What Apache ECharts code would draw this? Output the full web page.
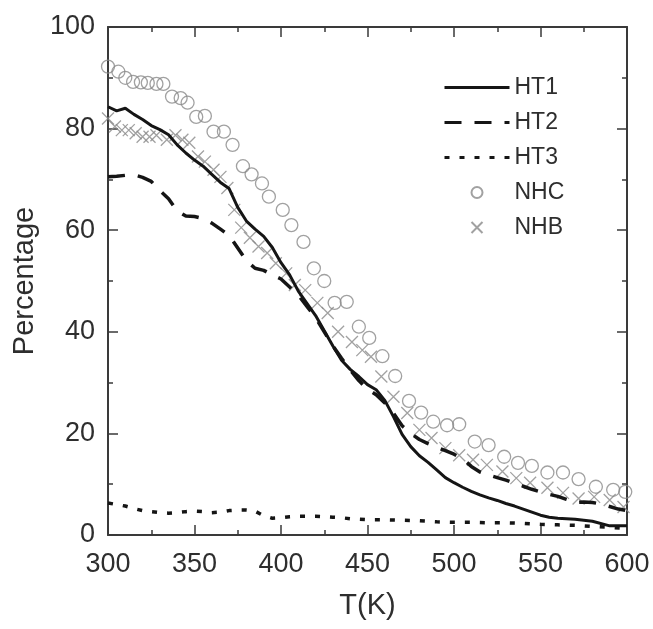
<!DOCTYPE html>
<html>
<head>
<meta charset="utf-8">
<script src="https://cdn.jsdelivr.net/npm/echarts@6/dist/echarts.min.js"></script>
<style>
html,body{margin:0;padding:0;background:#fff;}
#c{width:653px;height:629px;}
</style>
</head>
<body>
<div id="c"></div>
<script>
// Tick labels / axis ranges
const xTicks = [300, 350, 400, 450, 500, 550, 600];
const yTicks = [0, 20, 40, 60, 80, 100];
const lineNames = ['HT1', 'HT2', 'HT3'];
const markerNames = ['NHC', 'NHB'];

// HT1 (solid)
const ht1 = [[300,84.3],[305,83.5],[310,84],[315,82.8],[320,81.8],[325,80.6],[330,79.8],[335,78.8],[340,76.8],[345,75.2],[350,73.8],[355,72.6],[360,71],[365,69.4],[370,68.2],[375,64.5],[380,61.8],[385,60.2],[390,58.8],[395,56.6],[400,53.6],[405,51.2],[410,48],[415,45.6],[420,43.2],[425,40.2],[430,37.2],[435,34.4],[440,32.6],[445,31.2],[450,29.6],[455,28.6],[460,26.5],[465,23.3],[470,19.8],[475,17.4],[480,15.6],[485,14.3],[490,12.8],[495,11.3],[500,10.3],[505,9.4],[510,8.6],[515,7.9],[520,7.3],[525,6.8],[530,6.2],[535,5.7],[540,5.1],[545,4.5],[550,3.9],[555,3.5],[560,3.3],[570,3.1],[580,2.7],[590,1.8],[600,1.8]];

// HT2 (dashed)
const ht2 = [[300,70.5],[305,70.6],[310,70.8],[315,70.9],[320,70.4],[325,69.6],[330,67.8],[335,66.2],[340,63.8],[345,62.8],[350,62.7],[355,62.3],[360,61.4],[365,60.2],[370,59],[375,56.5],[380,54],[385,52.5],[390,52.1],[395,51.2],[400,50.4],[405,48.8],[410,47.2],[415,45],[420,42.8],[425,40],[430,37.2],[435,34.8],[440,32.5],[445,30.4],[450,28.7],[455,27.6],[460,26],[465,24],[470,21.5],[475,20],[480,18.8],[485,18],[490,17.3],[495,16.6],[500,15.9],[505,15],[510,13.5],[515,12.4],[520,11.8],[525,11.3],[530,10.8],[535,10.2],[540,9.6],[545,9],[550,8.5],[555,8],[560,7.6],[565,7],[570,6.4],[575,6.5],[580,6.4],[585,6.1],[590,5.6],[595,5.1],[600,4.8]];

// HT3 (dotted)
const ht3 = [[300,6.3],[305,6.0],[310,5.7],[315,5.2],[320,4.8],[325,4.6],[330,4.4],[335,4.3],[340,4.4],[345,4.6],[350,4.7],[355,4.6],[360,4.4],[365,4.5],[370,4.8],[375,4.9],[380,4.9],[385,4.7],[390,3.8],[395,3.3],[400,3.4],[405,3.6],[410,3.7],[415,3.7],[420,3.7],[425,3.6],[430,3.5],[435,3.4],[440,3.2],[445,3.1],[450,3.0],[460,3.0],[470,2.9],[480,2.8],[490,2.6],[500,2.5],[510,2.5],[520,2.4],[530,2.4],[540,2.3],[550,2.1],[560,2.0],[570,1.9],[580,1.7],[590,1.5],[600,1.3]];

// NHC (open circles)
const nhc = [[300,92.2],[306,91.2],[310,90],[314.5,89.2],[319,89.1],[323,89],[328,88.8],[332,88.8],[337,86.3],[342,86],[346,85.1],[351,82.3],[356,82.5],[361,79.4],[367,79.4],[372,76.8],[378,72.6],[383,71],[389,69.2],[393,66.6],[401,64],[406,61],[413,57.7],[419,52.5],[425,50],[431,45.7],[438,45.9],[445,41],[451,38.8],[458.6,35.2],[466,31.3],[474,26.4],[481,24.1],[488,22.3],[496,21.6],[503,21.8],[512,18.4],[520,17.7],[529,15.4],[537,14.2],[545,13.6],[554,12.3],[563,12.3],[572,11],[582,9.5],[592,8.9],[599,8.5]];

// NHB (crosses)
const nhb = [[300,82],[304,80.4],[308,79.7],[312,79.7],[316,79.1],[320,78.4],[324,78.4],[328,78.7],[334,77.8],[339,78.7],[343,77.8],[347,77.2],[352,74.5],[356,73.5],[361,71.9],[365,70.5],[369,68.3],[373,64],[377,60.5],[382,58.5],[387,56.8],[392,55.5],[397,53.5],[403,51.5],[408,49.2],[414,48.2],[421,45.7],[427,43.7],[433,40],[441,38],[447,36.4],[452,35.1],[458,31.2],[465,27.2],[473,24],[480,20.7],[487,19.1],[495,17.1],[503,15.7],[511,14.8],[519,13.8],[528,12.5],[536,11.2],[544,10.3],[554,9.3],[563,8.3],[572,7.2],[581,7.5],[590,6.9],[598,5.5]];

const FONT = "'Liberation Sans', Arial, Helvetica, sans-serif";
const AX = '#3a3a3a';
const LINE = '#151515';
const MARK = '#8a8a8a';
const TXT = '#2e2e2e';

const chart = echarts.init(document.getElementById('c'), null, {renderer: 'canvas'});

function baseAxis(extra) {
  return Object.assign({
    type: 'value',
    axisLine: {show: true, onZero: false, lineStyle: {color: AX, width: 2}},
    axisTick: {show: true, inside: true, length: 10, lineStyle: {color: AX, width: 1.5}},
    minorTick: {show: true, splitNumber: 2, length: 5, lineStyle: {color: AX, width: 1.5}},
    splitLine: {show: false},
    minorSplitLine: {show: false}
  }, extra);
}

const legendData = lineNames.map(n => ({name: n, itemStyle: {opacity: 0}, lineStyle: {width: 3}}))
  .concat(markerNames.map(n => ({name: n})));

const option = {
  backgroundColor: '#fff',
  animation: false,
  grid: {left: 108, right: 26, top: 27, bottom: 94, containLabel: false},
  legend: {
    data: legendData,
    orient: 'vertical',
    left: 443,
    top: 76,
    padding: 0,
    itemWidth: 65,
    itemHeight: 11,
    itemGap: 12,
    selectedMode: false,
    textStyle: {fontFamily: FONT, fontSize: 23, color: TXT}
  },
  xAxis: [
    baseAxis({
      position: 'bottom', min: xTicks[0], max: xTicks[xTicks.length - 1], interval: 50,
      name: 'T(K)', nameLocation: 'middle', nameGap: 56,
      nameTextStyle: {fontFamily: FONT, fontSize: 29, color: TXT},
      axisLabel: {show: true, margin: 16, fontFamily: FONT, fontSize: 27, color: TXT}
    }),
    baseAxis({
      position: 'top', min: xTicks[0], max: xTicks[xTicks.length - 1], interval: 50,
      axisLabel: {show: false}
    })
  ],
  yAxis: [
    baseAxis({
      position: 'left', min: yTicks[0], max: yTicks[yTicks.length - 1], interval: 20,
      name: 'Percentage', nameLocation: 'middle', nameGap: 63,
      nameTextStyle: {fontFamily: FONT, fontSize: 29, color: TXT},
      axisLabel: {show: true, margin: 13, fontFamily: FONT, fontSize: 27, color: TXT}
    }),
    baseAxis({
      position: 'right', min: yTicks[0], max: yTicks[yTicks.length - 1], interval: 20,
      axisLabel: {show: false}
    })
  ],
  series: [
    {
      name: 'NHC', type: 'scatter', data: nhc, xAxisIndex: 0, yAxisIndex: 0,
      symbol: 'circle', symbolSize: 13,
      itemStyle: {color: 'rgba(255,255,255,0)', borderColor: MARK, borderWidth: 1.3},
      z: 2
    },
    {
      name: 'NHB', type: 'scatter', data: nhb, xAxisIndex: 0, yAxisIndex: 0,
      symbol: 'path://M0,0L10,10M0,10L10,0', symbolSize: 12,
      itemStyle: {color: 'rgba(255,255,255,0)', borderColor: MARK, borderWidth: 1.3},
      z: 2
    },
    {
      name: 'HT1', type: 'line', data: ht1, showSymbol: false, symbol: 'none',
      lineStyle: {color: LINE, width: 3}, itemStyle: {color: LINE}, z: 3
    },
    {
      name: 'HT2', type: 'line', data: ht2, showSymbol: false, symbol: 'none',
      lineStyle: {color: LINE, width: 3.5, type: [17, 13]}, itemStyle: {color: LINE}, z: 3
    },
    {
      name: 'HT3', type: 'line', data: ht3, showSymbol: false, symbol: 'none',
      lineStyle: {color: LINE, width: 3.5, type: [5, 10]}, itemStyle: {color: LINE}, z: 3
    }
  ]
};
chart.setOption(option);
</script>
</body>
</html>
